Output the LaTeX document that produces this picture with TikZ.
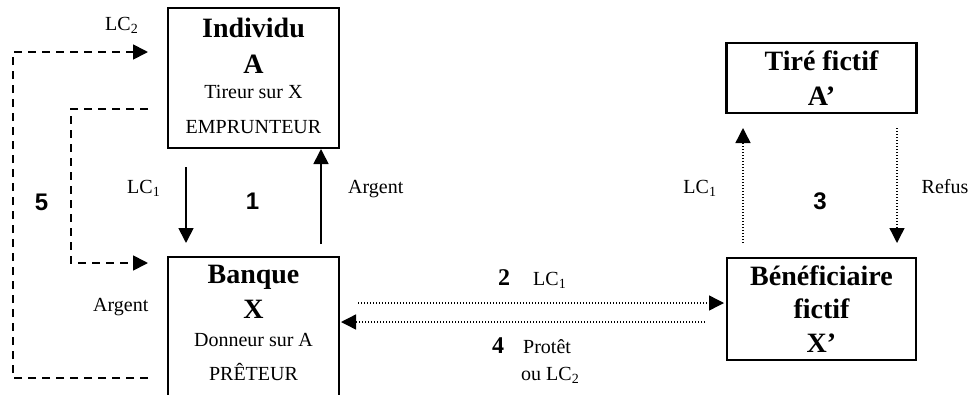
\documentclass[tikz,border=0pt]{standalone}
\usepackage{fontspec}
\setmainfont{Liberation Serif}
\newfontfamily\arialf{Liberation Sans}
\usetikzlibrary{arrows.meta}
\begin{document}
\begin{tikzpicture}[x=1pt,y=-1pt,
 boxx/.style={draw, line width=2.5pt, inner sep=0pt},
 tt/.style={font=\fontsize{28}{28}\selectfont\bfseries, anchor=base, inner sep=0pt},
 txt/.style={font=\fontsize{20}{20}\selectfont, anchor=base, inner sep=0pt},
 num/.style={font=\fontsize{24}{24}\selectfont\arialf\bfseries, anchor=base, inner sep=0pt},
 snum/.style={font=\fontsize{24}{24}\selectfont\bfseries, anchor=base west, inner sep=0pt},
 arr/.style={line width=1.7pt, -{Triangle[width=15pt,length=15pt]}},
 dsh/.style={arr, dash pattern=on 8pt off 6pt},
 dot/.style={arr, line width=1.4pt, dash pattern=on 1.2pt off 1.8pt},
]
\useasboundingbox (0,0) rectangle (974,394);
% boxes
\node[boxx, minimum width=171pt, minimum height=140pt] (A) at (253.5,78) {};
\node[boxx, minimum width=171pt, minimum height=142pt] (X) at (253.5,328) {};
\node[boxx, minimum width=190pt, minimum height=70pt] (T) at (821.5,78) {};
\node[boxx, minimum width=189pt, minimum height=102pt] (B) at (821.5,309) {};
% box texts
\node[tt] (a1) at (253.5,37) {Individu};
\node[tt] (a2) at (253.5,73) {A};
\node[txt] (a3) at (253.5,98) {Tireur sur X};
\node[txt] (a4) at (253.5,133) {EMPRUNTEUR};
\node[tt] (x1) at (253.5,283) {Banque};
\node[tt] (x2) at (253.5,318) {X};
\node[txt] (x3) at (253.5,346) {Donneur sur A};
\node[txt] (x4) at (253.5,380) {PRÊTEUR};
\node[tt] (t1) at (821.5,70) {Tiré fictif};
\node[tt] (t2) at (821.5,105) {A’};
\node[tt] (b1) at (821.5,285) {Bénéficiaire};
\node[tt] (b2) at (821.5,318) {fictif};
\node[tt] (b3) at (821.5,352) {X’};
% coordinates for connectors
\coordinate (o1) at (148,378);
\coordinate (o2) at (13,378);
\coordinate (o3) at (13,52);
\coordinate (o4) at (148,52);
\coordinate (i1) at (148,109);
\coordinate (i2) at (71,109);
\coordinate (i3) at (71,263);
\coordinate (i4) at (148,263);
\coordinate (l1) at (186,167);
\coordinate (l2) at (186,243);
\coordinate (g1) at (321,244);
\coordinate (g2) at (321,149);
\coordinate (d1) at (358,303);
\coordinate (d2) at (724,303);
\coordinate (e1) at (705,322);
\coordinate (e2) at (341,322);
\coordinate (u1) at (743,243);
\coordinate (u2) at (743,128);
\coordinate (r1) at (897,128);
\coordinate (r2) at (897,243);
% connectors
\draw[dsh] (o1) -- (o2) -- (o3) -- (o4);
\draw[dsh] (i1) -- (i2) -- (i3) -- (i4);
\draw[arr] (l1) -- (l2);
\draw[arr] (g1) -- (g2);
\draw[dot] (d1) -- (d2);
\draw[dot] (e1) -- (e2);
\draw[dot] (u1) -- (u2);
\draw[dot] (r1) -- (r2);
% labels
\node[txt, anchor=base west] (lc2) at (105,30) {LC\textsubscript{2}};
\node[txt, anchor=base west] (lc1a) at (127,193) {LC\textsubscript{1}};
\node[txt, anchor=base west] (ar1) at (348,193) {Argent};
\node[txt, anchor=base west] (ar2) at (93,311) {Argent};
\node[num] (n5) at (41.5,210) {5};
\node[num] (n1) at (252.5,209) {1};
\node[num] (n3) at (820,209) {3};
\node[txt] (lc1b) at (700,193) {LC\textsubscript{1}};
\node[txt] (rf) at (945,193) {Refus};
\node[snum] (n2) at (498,285) {2};
\node[txt, anchor=base west] (lc1c) at (533,285) {LC\textsubscript{1}};
\node[snum] (n4) at (492,353) {4};
\node[txt, anchor=base west] (pr) at (523,353) {Protêt};
\node[txt, anchor=base west] (ou) at (521,380) {ou LC\textsubscript{2}};
\end{tikzpicture}
\end{document}
